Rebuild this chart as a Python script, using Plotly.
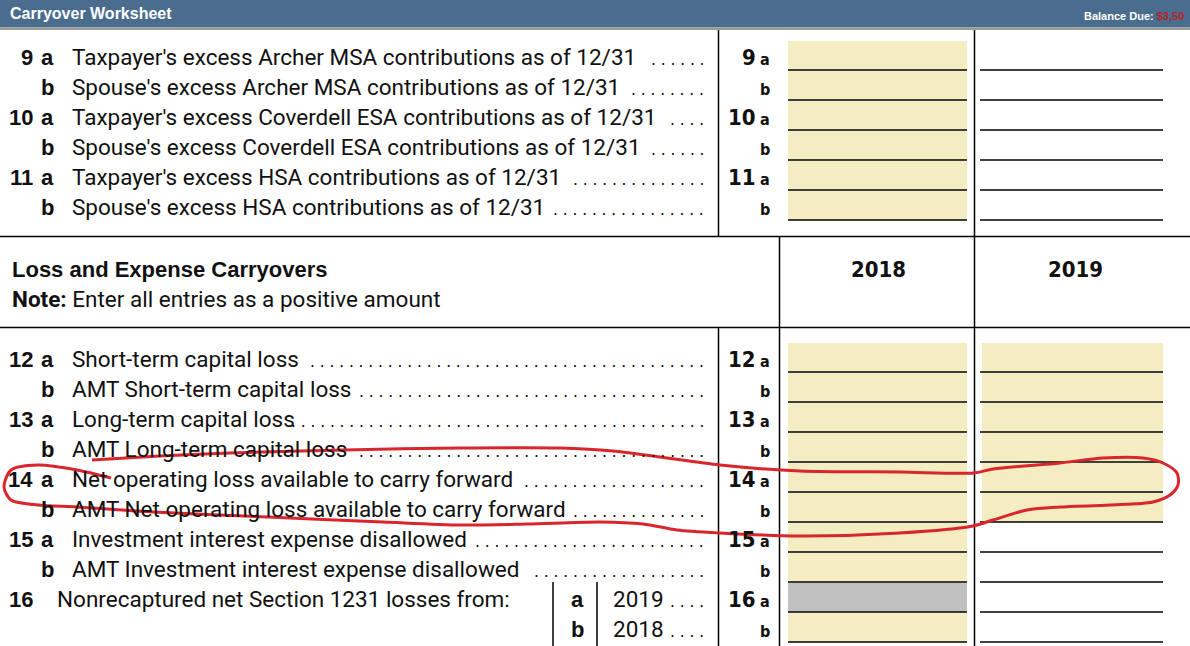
import plotly.graph_objects as go

W, H = 1190, 646

# ---------------- data ----------------
title_text = "Carryover Worksheet"
balance_label = "Balance Due:"
balance_value = "$3,50"

top_nums = ["9", "", "10", "", "11", ""]
top_letters = ["a", "b", "a", "b", "a", "b"]
top_labels = [
    "Taxpayer's excess Archer MSA contributions as of 12/31",
    "Spouse's excess Archer MSA contributions as of 12/31",
    "Taxpayer's excess Coverdell ESA contributions as of 12/31",
    "Spouse's excess Coverdell ESA contributions as of 12/31",
    "Taxpayer's excess HSA contributions as of 12/31",
    "Spouse's excess HSA contributions as of 12/31",
]
top_dots = [6, 8, 4, 6, 14, 16]
top_fill_2018 = ["y", "y", "y", "y", "y", "y"]
top_fill_2019 = ["w", "w", "w", "w", "w", "w"]

section_title = "Loss and Expense Carryovers"
section_note_bold = "Note:"
section_note = "Enter all entries as a positive amount"
col_years = ["2018", "2019"]

low_nums = ["12", "", "13", "", "14", "", "15", "", "16", ""]
low_left_letters = ["a", "b", "a", "b", "a", "b", "a", "b", "", ""]
low_letters = ["a", "b", "a", "b", "a", "b", "a", "b", "a", "b"]
low_labels = [
    "Short-term capital loss",
    "AMT Short-term capital loss",
    "Long-term capital loss",
    "AMT Long-term capital loss",
    "Net operating loss available to carry forward",
    "AMT Net operating loss available to carry forward",
    "Investment interest expense disallowed",
    "AMT Investment interest expense disallowed",
    "Nonrecaptured net Section 1231 losses from:",
    "",
]
low_dots = [41, 36, 43, 36, 19, 14, 24, 18, 0, 0]
low_fill_2018 = ["y", "y", "y", "y", "y", "y", "y", "y", "g", "y"]
low_fill_2019 = ["y", "y", "y", "y", "y", "y", "w", "w", "w", "w"]
row16_letters = ["a", "b"]
row16_years = ["2019", "2018"]
row16_dots = [4, 4]

# hand-drawn red loop (pixel coordinates)
red_x = [92, 160, 230, 345, 460, 560, 613, 660, 720, 800, 900, 974, 993, 1060,
         1103, 1143, 1163, 1177, 1178, 1170, 1153, 1110, 1060, 1027, 993, 973,
         900, 800, 720, 677, 643, 600, 527, 460, 383, 268, 153, 77, 38, 11, 4,
         11, 38, 77, 111]
red_y = [460, 456, 453, 450, 448, 448, 451, 457, 465, 471, 472, 473, 469, 463,
         458, 458, 463, 473, 485, 495, 502, 505, 507, 510, 520, 526,
         533, 536, 533, 530, 524, 522, 524, 525, 522, 517, 512, 507, 505, 500, 487,
         470, 465, 470, 478]

# ---------------- styling ----------------
HEADER_BLUE = "#4a6d8e"
YELLOW = "#f4edc2"
GREY = "#c0c0c0"
RED = "#d8262c"
TXT = "#111111"
BODY = "Roboto, 'Liberation Sans', Arial, sans-serif"
NARROW = "'Liberation Sans Narrow', 'DejaVu Sans Condensed', 'Arial Narrow', sans-serif"
BOLDF = "'Liberation Sans', Arial, sans-serif"
BODY_SIZE = 22.5

fig = go.Figure()
shapes = []
ann = []


def line(x0, y0, x1, y1, w=1.5, c="black"):
    shapes.append(dict(type="line", x0=x0, y0=y0, x1=x1, y1=y1, layer="below",
                       line=dict(color=c, width=w)))


def rect(x0, y0, x1, y1, fill):
    shapes.append(dict(type="rect", x0=x0, y0=y0, x1=x1, y1=y1, layer="below",
                       fillcolor=fill, line=dict(width=0)))


def text(x, y, s, size, family=BODY, color=TXT, xanchor="left", bold=False):
    if bold and s:
        s = "<b>" + s + "</b>"
    ann.append(dict(x=x, y=y, xref="x", yref="y", text=s, showarrow=False,
                    xanchor=xanchor, yanchor="middle",
                    font=dict(size=size, family=family, color=color)))


def dots(n, x_end, y):
    if n > 0:
        text(x_end, y + 2, " ".join(["."] * n), 17.5, family="'Liberation Sans', Arial",
             xanchor="right")


fillmap = {"y": YELLOW, "g": GREY, "w": None}

# header bar
rect(0, 0, W, 27.5, HEADER_BLUE)
rect(0, 27.5, W, 30, "#9a9a9a")
text(8, 13, title_text, 16, family=BOLDF, color="white", bold=True)
ann.append(dict(x=1186, y=16, xref="x", yref="y", showarrow=False, xanchor="right",
                yanchor="middle",
                text="<b>" + balance_label + " <span style='color:#b8222a'>" +
                     balance_value + "</span></b>",
                font=dict(size=11, family=BOLDF, color="white")))

# column geometry
C18 = (788, 967)
C19 = (982, 1163)
X_LABEL = 70


def draw_rows(y_first, nums, left_letters, letters, labels, ndots, f18, f19):
    for i in range(len(labels)):
        yc = y_first + 30 * i
        top = yc - 16
        bot = yc + 13
        # cells
        for (x0, x1), f in ((C18, f18[i]), (C19, f19[i])):
            if fillmap[f]:
                rect(x0, top, x1, bot, fillmap[f])
        line(C18[0], bot, C18[1], bot)
        line(C19[0] - 2, bot, C19[1], bot)
        # left number / letter
        if nums[i]:
            text(35, yc, nums[i], 22, family=BOLDF, xanchor="right", bold=True)
        lab_x = X_LABEL if left_letters[i] else 55
        if left_letters[i]:
            text(39, yc, left_letters[i], 22, family=BOLDF, bold=True)
        if labels[i]:
            text(lab_x, yc, labels[i], BODY_SIZE)
        dots(ndots[i], 706, yc)
        # right number / letter
        if nums[i]:
            text(758, yc, nums[i], 22, family=NARROW, xanchor="right", bold=True)
        text(772, yc + 2, letters[i], 16, family=NARROW, xanchor="right", bold=True)


draw_rows(57, top_nums, top_letters, top_letters, top_labels, top_dots,
          top_fill_2018, top_fill_2019)
draw_rows(359, low_nums, low_left_letters, low_letters, low_labels, low_dots,
          low_fill_2018, low_fill_2019)

# row 16 sub-grid
for j in range(2):
    yc = 359 + 30 * (8 + j)
    text(577, yc, row16_letters[j], 22, family=BOLDF, xanchor="center", bold=True)
    text(611, yc, row16_years[j], BODY_SIZE)
    dots(row16_dots[j], 706, yc)
line(553, 582, 553, H)
line(597, 582, 597, H)

# section header
text(10, 269, section_title, 22, family=BOLDF, bold=True)
text(10, 299, "<b>" + section_note_bold + "</b> " + section_note, BODY_SIZE)
for k, yr in enumerate(col_years):
    text([878, 1075][k], 269, yr, 22, family=NARROW, xanchor="center", bold=True)

# grid lines
line(0, 236.5, W, 236.5)
line(0, 327.5, W, 327.5)
line(718.5, 30, 718.5, 236.5)
line(718.5, 327.5, 718.5, H)
line(779.5, 236.5, 779.5, H)
line(974.5, 30, 974.5, H)

# red hand-drawn loop
fig.add_trace(go.Scatter(x=red_x, y=red_y, mode="lines",
                         line=dict(color=RED, width=3, shape="spline", smoothing=0.8),
                         hoverinfo="skip", showlegend=False))

fig.update_layout(
    width=W, height=H, margin=dict(l=0, r=0, t=0, b=0),
    paper_bgcolor="white", plot_bgcolor="white",
    shapes=shapes, annotations=ann, showlegend=False,
    xaxis=dict(range=[0, W], visible=False, fixedrange=True),
    yaxis=dict(range=[H, 0], visible=False, fixedrange=True),
)
fig.write_html("out.html", config={"displayModeBar": False},
               post_script="document.body.style.margin='0';"
                           "document.body.style.overflow='hidden';")
